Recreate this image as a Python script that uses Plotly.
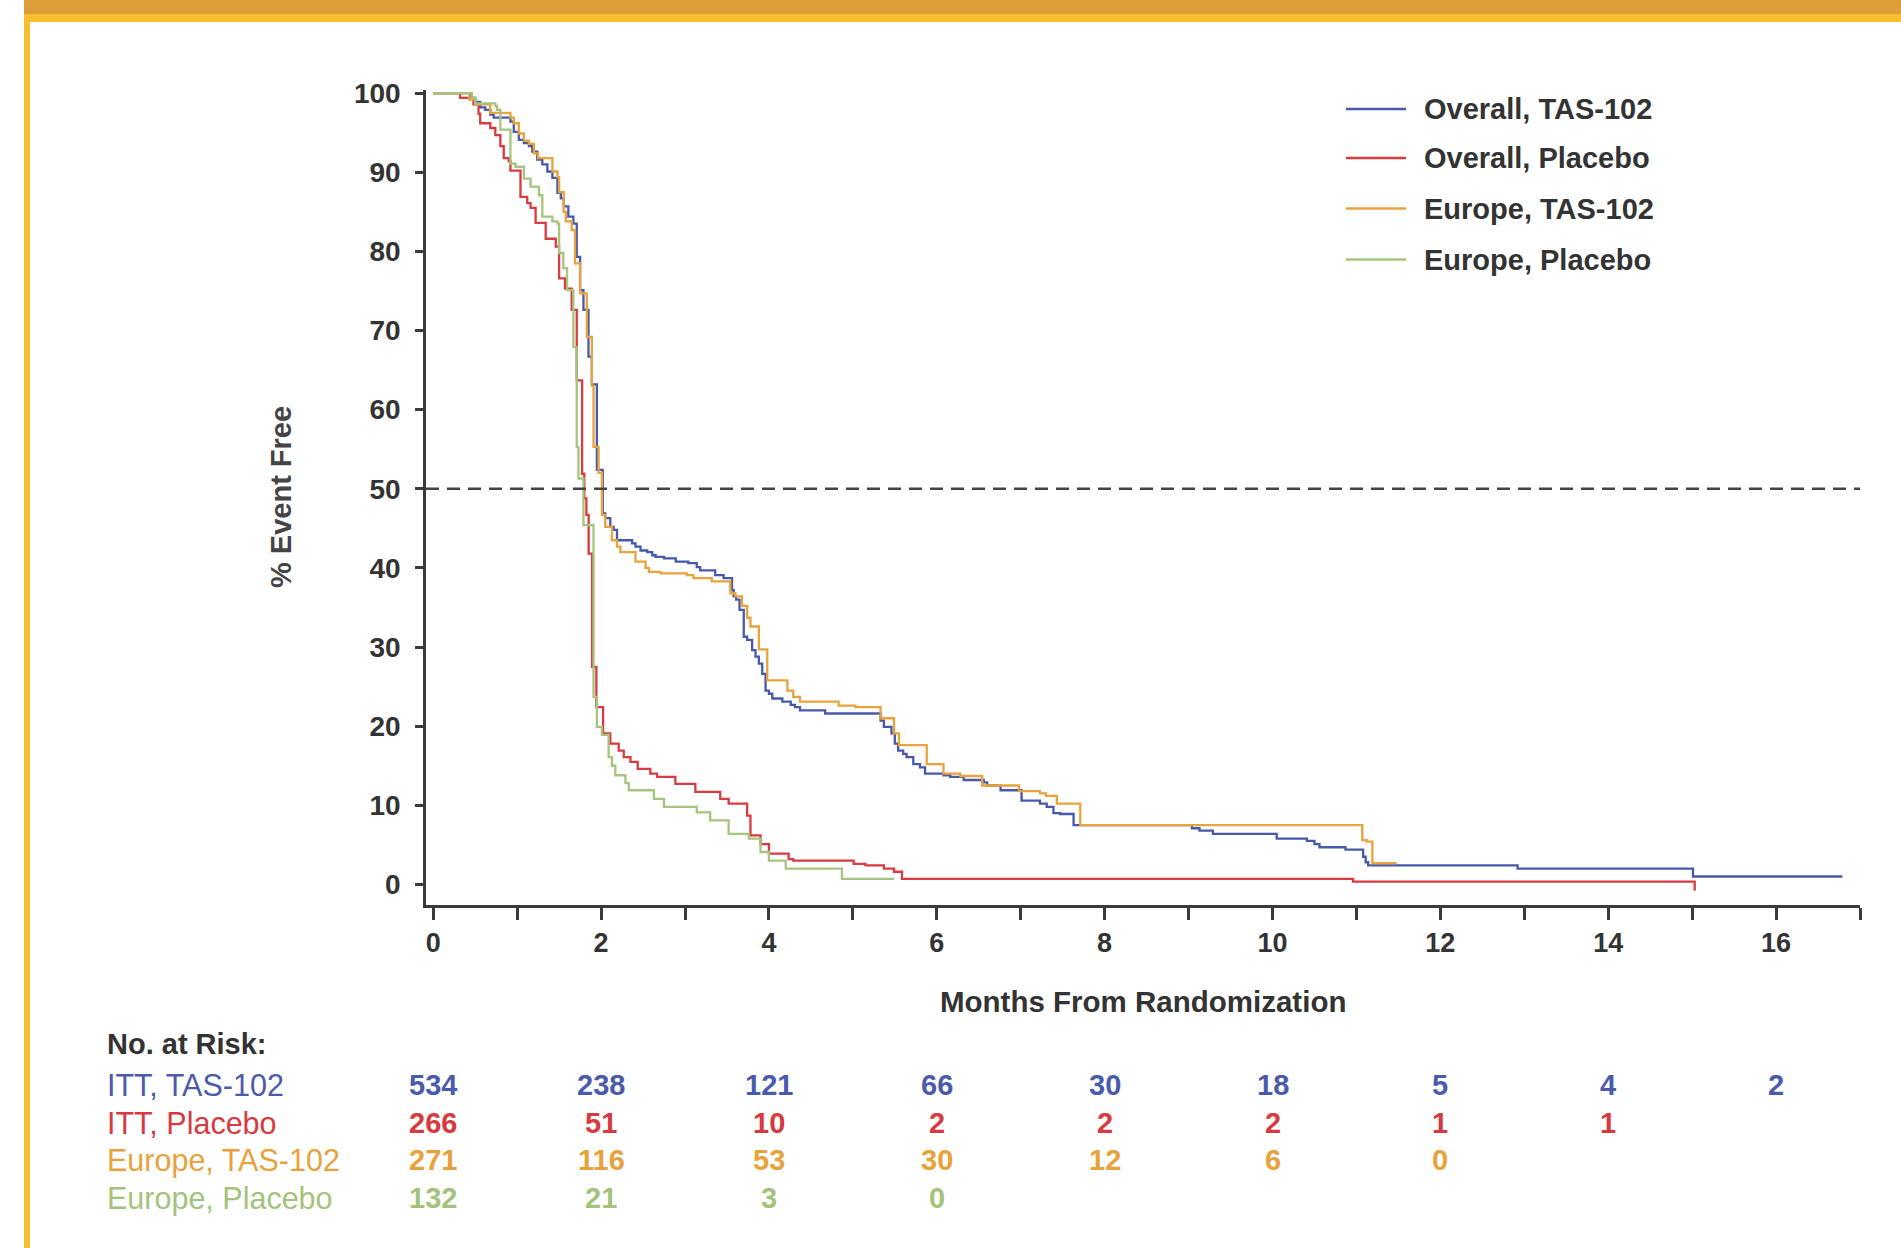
import plotly.graph_objects as go

# ---------------- data ----------------
series_names = ["Overall, TAS-102", "Overall, Placebo", "Europe, TAS-102", "Europe, Placebo"]
series_colors = ["#4759AA", "#D83B40", "#E8A33C", "#A5C57F"]

blue_t = [0, 0.44, 0.50, 0.56, 0.62, 0.68, 0.72, 0.92, 0.96, 1.02, 1.08, 1.14, 1.18, 1.24, 1.30,
          1.36, 1.42, 1.48, 1.52, 1.555, 1.61, 1.67, 1.71, 1.75, 1.79, 1.85, 1.89, 1.95, 2.02,
          2.05, 2.11, 2.15, 2.19, 2.37, 2.41, 2.47, 2.55, 2.61, 2.65, 2.75, 2.89, 3.04, 3.14,
          3.18, 3.36, 3.46, 3.56, 3.58, 3.61, 3.65, 3.70, 3.74, 3.80, 3.84, 3.88, 3.92, 3.96,
          4.00, 4.04, 4.16, 4.26, 4.31, 4.37, 4.67, 5.33, 5.37, 5.46, 5.50, 5.54, 5.60, 5.64,
          5.72, 5.80, 5.86, 6.08, 6.16, 6.32, 6.56, 6.60, 6.76, 7.01, 7.23, 7.31, 7.39, 7.47,
          7.63, 7.69, 9.04, 9.13, 9.29, 10.05, 10.41, 10.50, 10.56, 10.87, 11.08, 11.11, 11.14,
          12.92, 15.01, 16.79]
blue_v = [100, 99.4, 98.9, 98.2, 97.9, 97.3, 96.9, 96.4, 95.1, 94.1, 93.7, 93.3, 92.6, 91.6, 91.0,
          90.1, 89.3, 87.4, 86.7, 85.7, 84.4, 83.5, 79.3, 75.1, 72.6, 66.7, 63.2, 52.4, 46.9,
          46.3, 45.2, 44.8, 43.5, 43.1, 42.7, 42.2, 42.0, 41.6, 41.4, 41.2, 40.8, 40.6, 40.1,
          39.7, 39.1, 38.7, 37.2, 36.4, 36.0, 34.7, 31.3, 30.9, 29.6, 28.8, 27.9, 26.6, 24.5,
          24.1, 23.5, 23.1, 22.7, 22.4, 22.0, 21.6, 20.7, 19.9, 19.1, 17.8, 16.9, 16.5, 16.1,
          15.2, 14.8, 14.0, 13.8, 13.6, 13.2, 12.9, 12.5, 11.9, 10.6, 10.2, 9.8, 9.0, 8.9,
          7.5, 7.5, 7.1, 6.8, 6.4, 5.8, 5.5, 5.1, 4.7, 4.4, 3.5, 2.8, 2.4,
          2.0, 1.0, 1.0]

red_t = [0, 0.32, 0.48, 0.54, 0.56, 0.68, 0.74, 0.80, 0.84, 0.90, 0.92, 1.04, 1.12, 1.16, 1.22,
         1.34, 1.46, 1.50, 1.57, 1.65, 1.71, 1.774, 1.80, 1.825, 1.852, 1.893, 1.944, 2.024,
         2.11, 2.21, 2.27, 2.35, 2.436, 2.587, 2.667, 2.885, 3.123, 3.42, 3.52, 3.74, 3.78,
         3.90, 4.00, 4.235, 4.29, 5.01, 5.15, 5.37, 5.49, 5.585, 10.96, 15.03]
red_v = [100, 99.4, 98.6, 97.4, 96.2, 95.6, 94.7, 93.3, 91.8, 91.4, 90.2, 86.9, 86.1, 85.5, 83.6,
         81.6, 80.6, 76.6, 75.3, 72.6, 63.7, 51.9, 48.8, 46.7, 41.8, 27.5, 22.4, 19.1,
         17.8, 16.9, 16.1, 15.5, 14.6, 14.0, 13.6, 12.7, 11.7, 10.8, 10.2, 8.7, 6.2,
         5.1, 3.9, 3.2, 3.0, 2.6, 2.4, 2.0, 1.6, 0.7, 0.35, -0.8]

orange_t = [0, 0.43, 0.50, 0.68, 0.92, 0.96, 1.02, 1.08, 1.14, 1.20, 1.25, 1.42, 1.48, 1.50, 1.555,
            1.58, 1.65, 1.69, 1.75, 1.83, 1.89, 1.91, 1.97, 2.01, 2.05, 2.13, 2.19, 2.23, 2.41,
            2.53, 2.57, 2.71, 3.02, 3.10, 3.32, 3.54, 3.60, 3.68, 3.74, 3.78, 3.88, 3.98, 4.22,
            4.29, 4.37, 4.83, 5.03, 5.33, 5.49, 5.55, 5.88, 6.08, 6.28, 6.54, 6.98, 7.23, 7.30,
            7.43, 7.71, 11.07, 11.12, 11.19, 11.48]
orange_v = [100, 99.2, 98.6, 97.5, 96.9, 96.2, 94.9, 94.0, 93.6, 92.4, 91.8, 90.1, 89.4, 87.5, 85.0,
            83.8, 82.7, 78.5, 74.7, 69.2, 63.0, 55.3, 52.0, 46.7, 45.2, 43.5, 42.7, 42.0, 40.8,
            40.0, 39.5, 39.3, 39.1, 38.7, 38.3, 36.8, 36.4, 35.2, 33.7, 32.6, 29.7, 25.8, 24.5,
            23.7, 23.1, 22.6, 22.4, 21.0, 19.1, 17.6, 15.2, 14.0, 13.7, 12.5, 11.8, 11.5, 11.2,
            10.2, 7.5, 5.6, 5.4, 2.7, 2.7]

green_t = [0, 0.46, 0.50, 0.74, 0.76, 0.80, 0.92, 0.98, 1.08, 1.16, 1.26, 1.30, 1.42, 1.48, 1.50,
           1.55, 1.595, 1.67, 1.71, 1.73, 1.79, 1.91, 1.95, 2.01, 2.09, 2.13, 2.17, 2.29, 2.33,
           2.63, 2.75, 3.14, 3.30, 3.52, 3.76, 3.90, 4.00, 4.20, 4.87, 5.49]
green_v = [100, 99.4, 98.7, 98.4, 97.9, 95.4, 91.1, 90.7, 89.2, 88.2, 87.1, 84.4, 83.8, 83.5, 79.8,
           77.9, 75.1, 67.9, 55.3, 51.3, 45.4, 23.7, 19.9, 18.9, 16.1, 15.0, 13.8, 12.8, 11.9,
           10.8, 9.8, 9.1, 8.1, 6.4, 5.8, 4.1, 3.0, 2.0, 0.7, 0.7]

series_t = [blue_t, red_t, orange_t, green_t]
series_v = [blue_v, red_v, orange_v, green_v]

risk_labels = ["ITT, TAS-102", "ITT, Placebo", "Europe, TAS-102", "Europe, Placebo"]
risk_times = [0, 2, 4, 6, 8, 10, 12, 14, 16]
risk_itt_tas = [534, 238, 121, 66, 30, 18, 5, 4, 2]
risk_itt_pbo = [266, 51, 10, 2, 2, 2, 1, 1]
risk_eu_tas = [271, 116, 53, 30, 12, 6, 0]
risk_eu_pbo = [132, 21, 3, 0]
risk_rows = [risk_itt_tas, risk_itt_pbo, risk_eu_tas, risk_eu_pbo]
risk_text_colors = ["#4A5BAB", "#D63A3F", "#E8A23B", "#A3C37C"]

x_ticks = list(range(0, 18))
x_tick_text = [str(v) if (v % 2 == 0 and v <= 16) else "" for v in x_ticks]
y_ticks = list(range(0, 101, 10))

# ---------------- layout geometry ----------------
W, H = 1901, 1248
L, R, T, B = 426, 41, 90, 343
PW, PH = W - L - R, H - T - B


def px(x):
    return (x - L) / PW


def py(y):
    return (H - B - y) / PH


FONT = "Arial, 'Liberation Sans', Helvetica, sans-serif"
TXT = "#333333"
AX = "#3a3a3a"

fig = go.Figure()
for name, col, tt, vv in zip(series_names, series_colors, series_t, series_v):
    fig.add_trace(go.Scatter(x=tt, y=vv, mode="lines", line=dict(color=col, width=2.3, shape="hv"),
                             name=name, showlegend=False, hoverinfo="skip"))

shapes = []
annotations = []

# 50% reference line
shapes.append(dict(type="line", xref="paper", x0=0, x1=1, yref="y", y0=50, y1=50,
                   line=dict(color="#444444", width=2.5, dash="13px,8px")))

# decorative frame
shapes.append(dict(type="rect", xref="paper", yref="paper", x0=px(24), x1=px(30), y0=py(0), y1=py(H),
                   fillcolor="#F6BD2F", line=dict(width=0), layer="below"))
shapes.append(dict(type="rect", xref="paper", yref="paper", x0=px(24), x1=px(W + 5), y0=py(0), y1=py(14),
                   fillcolor="#DD9D38", line=dict(width=0), layer="below"))
shapes.append(dict(type="rect", xref="paper", yref="paper", x0=px(30), x1=px(W + 5), y0=py(14), y1=py(22),
                   fillcolor="#F8BE2E", line=dict(width=0), layer="below"))

# custom legend
legend_rows = [109, 158, 208.5, 259.5]
for name, col, ry in zip(series_names, series_colors, legend_rows):
    shapes.append(dict(type="line", xref="paper", yref="paper", x0=px(1346), x1=px(1406),
                       y0=py(ry), y1=py(ry), line=dict(color=col, width=2.3)))
    annotations.append(dict(text=name, xref="paper", yref="paper", x=px(1422), y=py(ry),
                            xanchor="left", yanchor="middle", showarrow=False,
                            font=dict(family=FONT, size=29, color=TXT, weight="bold")))

# axis titles
annotations.append(dict(text="Months From Randomization", xref="paper", yref="paper", x=0.5, y=py(1001),
                        xanchor="center", yanchor="middle", showarrow=False,
                        font=dict(family=FONT, size=29.5, color=TXT, weight="bold")))
annotations.append(dict(text="% Event Free", xref="paper", yref="paper", x=px(281), y=py(497),
                        xanchor="center", yanchor="middle", textangle=-90, showarrow=False,
                        font=dict(family=FONT, size=29, color="#444444", weight="bold")))

# number at risk table
annotations.append(dict(text="No. at Risk:", xref="paper", yref="paper", x=px(105), y=py(1044),
                        xanchor="left", yanchor="middle", showarrow=False,
                        font=dict(family=FONT, size=29, color=TXT, weight="bold")))
row_y = [1085, 1123, 1160, 1198]
for lab, col, vals, ry in zip(risk_labels, risk_text_colors, risk_rows, row_y):
    annotations.append(dict(text=lab, xref="paper", yref="paper", x=px(105), y=py(ry),
                            xanchor="left", yanchor="middle", showarrow=False,
                            font=dict(family=FONT, size=30.5, color=col)))
    for t, v in zip(risk_times, vals):
        annotations.append(dict(text=str(v), xref="x", yref="paper", x=t, y=py(ry),
                                xanchor="center", yanchor="middle", showarrow=False,
                                font=dict(family=FONT, size=29, color=col, weight="bold")))

fig.update_layout(
    width=W, height=H,
    margin=dict(l=L, r=R, t=T, b=B, autoexpand=False),
    paper_bgcolor="white", plot_bgcolor="white",
    showlegend=False,
    shapes=shapes, annotations=annotations,
    xaxis=dict(range=[-0.086, 17.0], tickvals=x_ticks, ticktext=x_tick_text, ticks="outside",
               ticklen=12, tickwidth=2.5, tickcolor=AX, showline=True, linecolor=AX, linewidth=2.5,
               showgrid=False, zeroline=False, ticklabelstandoff=0,
               tickfont=dict(family=FONT, size=27, color=TXT, weight="bold")),
    yaxis=dict(range=[-2.6, 100.4], tickvals=y_ticks, ticks="outside", ticklen=8, tickwidth=2.5,
               tickcolor=AX, showline=True, linecolor=AX, linewidth=2.5, showgrid=False,
               zeroline=False, ticklabelstandoff=9,
               tickfont=dict(family=FONT, size=28, color=TXT, weight="bold")),
)

fig.write_html("out.html")
